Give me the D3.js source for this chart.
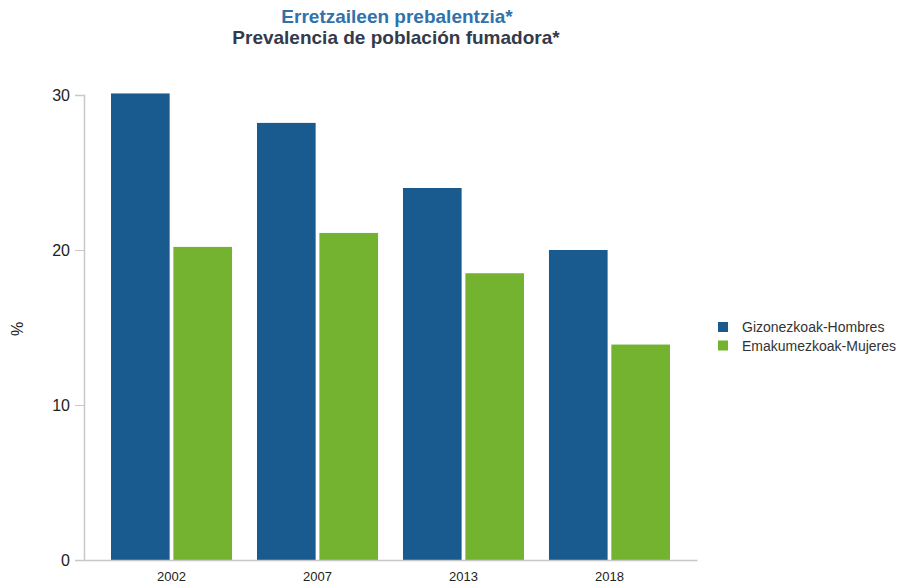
<!DOCTYPE html>
<html>
<head>
<meta charset="utf-8">
<script src="https://cdn.jsdelivr.net/npm/d3@7"></script>
<style>
  body { margin: 0; background: #fff; }
  text { font-family: "Liberation Sans", Arial, sans-serif; }
</style>
</head>
<body>
<div class="canvas"></div>
<script>
const years = ['2002', '2007', '2013', '2018'];
const series = ['Gizonezkoak-Hombres', 'Emakumezkoak-Mujeres'];
const men = [30.1, 28.2, 24.0, 20.0];
const women = [20.2, 21.1, 18.5, 13.9];
const yTicks = [0, 10, 20, 30];

const colors = ['#195b8f', '#73b330'];
const width = 917, height = 586;
const fontFamily = '"Liberation Sans", Arial, sans-serif';

const svg = d3.select('.canvas')
  .append('svg')
    .attr('width', width)
    .attr('height', height);

// scales
const x = d3.scaleBand()
  .domain(years)
  .range([84, 697])
  .paddingInner(0.171)
  .paddingOuter(0.185);

const xSub = d3.scaleBand()
  .domain(series)
  .range([0, x.bandwidth()])
  .paddingInner(0.06);

const y = d3.scaleLinear()
  .domain([0, 30])
  .range([560, 95]);

// titles
svg.append('text')
  .attr('x', 397).attr('y', 23)
  .attr('text-anchor', 'middle')
  .attr('font-size', 19).attr('font-weight', 'bold')
  .attr('fill', '#2f72ad')
  .text('Erretzaileen prebalentzia*');

svg.append('text')
  .attr('x', 396).attr('y', 44)
  .attr('text-anchor', 'middle')
  .attr('font-size', 19).attr('font-weight', 'bold')
  .attr('fill', '#333a4b')
  .text('Prevalencia de población fumadora*');

// bars
const rows = years.map((yr, i) => ({ year: yr, values: [men[i], women[i]] }));

const groups = svg.append('g')
  .selectAll('g')
  .data(rows)
  .enter().append('g')
    .attr('transform', d => `translate(${x(d.year)}, 0)`);

groups.selectAll('rect')
  .data(d => d.values.map((v, j) => ({ key: series[j], value: v, idx: j })))
  .enter().append('rect')
    .attr('x', d => xSub(d.key))
    .attr('y', d => y(d.value))
    .attr('width', xSub.bandwidth())
    .attr('height', d => y(0) - y(d.value))
    .attr('fill', d => colors[d.idx]);

// y axis
const yAxis = svg.append('g')
  .attr('transform', 'translate(84, 0)')
  .call(d3.axisLeft(y).tickValues(yTicks).tickSize(9).tickPadding(5));

yAxis.select('.domain').attr('stroke', '#c8c8c8').attr('stroke-width', 1.5);
yAxis.selectAll('.tick line').attr('stroke', '#c8c8c8');
yAxis.selectAll('.tick text')
  .attr('font-size', 16)
  .attr('fill', '#222')
  .style('font-family', fontFamily);

// x axis
const xAxis = svg.append('g')
  .attr('transform', 'translate(0, 560)')
  .call(d3.axisBottom(x).tickSize(0).tickPadding(12).tickSizeOuter(0));

xAxis.select('.domain').attr('stroke', '#c8c8c8').attr('stroke-width', 1.5);
xAxis.selectAll('.tick text')
  .attr('font-size', 13)
  .attr('fill', '#222')
  .style('font-family', fontFamily);

// y label
svg.append('text')
  .attr('transform', 'translate(23, 329) rotate(-90)')
  .attr('text-anchor', 'middle')
  .attr('font-size', 16)
  .attr('fill', '#222')
  .text('%');

// legend
const legend = svg.append('g')
  .attr('transform', 'translate(718, 322)');

const items = legend.selectAll('g')
  .data(series)
  .enter().append('g')
    .attr('transform', (d, i) => `translate(0, ${i * 18.5})`);

items.append('rect')
  .attr('width', 10).attr('height', 10)
  .attr('fill', (d, i) => colors[i]);

items.append('text')
  .attr('x', 24).attr('y', 10)
  .attr('font-size', 14)
  .attr('fill', '#333')
  .text(d => d);
</script>
</body>
</html>
